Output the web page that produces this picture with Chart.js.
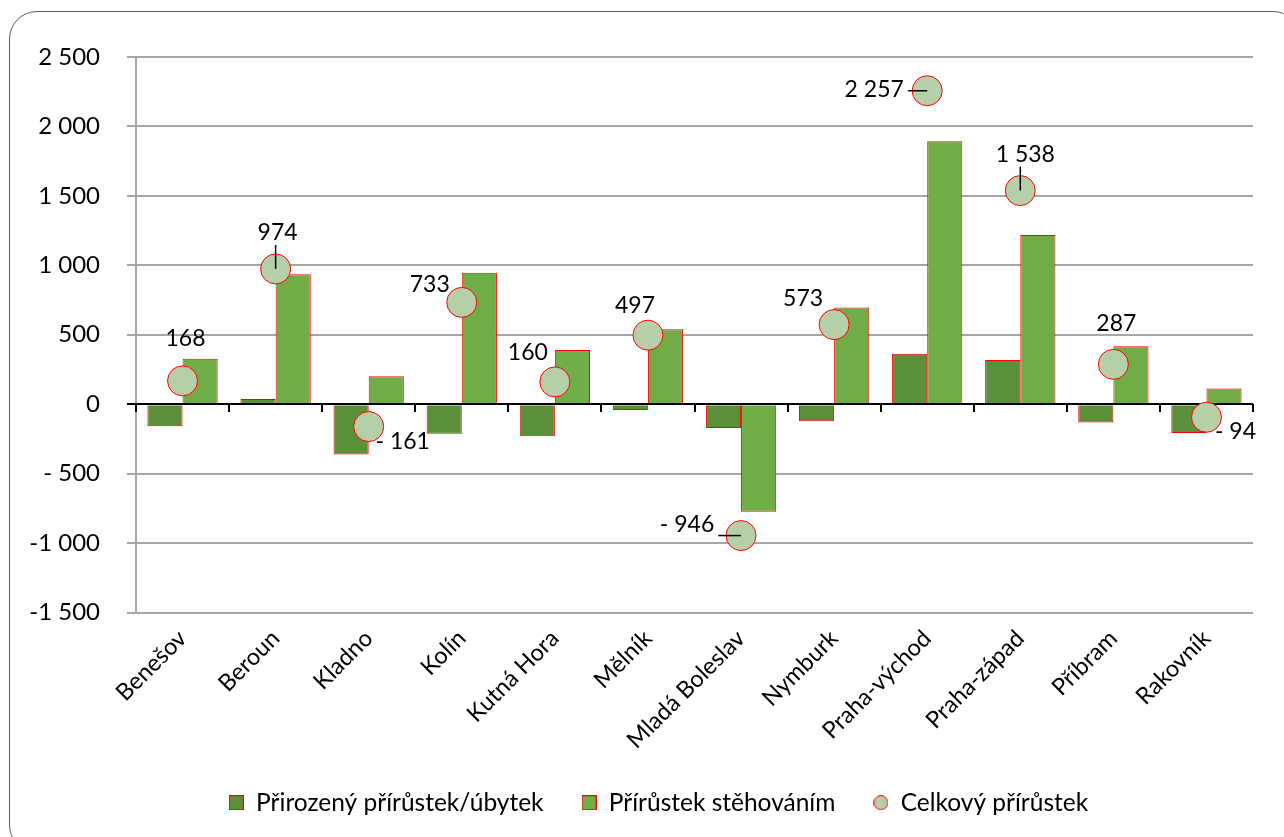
<!DOCTYPE html>
<html>
<head>
<meta charset="utf-8">
<script src="https://cdn.jsdelivr.net/npm/chart.js@4.4.1/dist/chart.umd.min.js"></script>
<style>
  body { margin: 0; background: #fff; overflow: hidden; }
  #wrap { position: relative; width: 1284px; height: 837px; }
  #frame { position: absolute; left: 9px; top: 11px; width: 1290px; height: 840px;
           border: 1px solid #5a5a5a; border-radius: 28px; }
  canvas { position: absolute; left: 0; top: 0; }
</style>
</head>
<body>
<div id="wrap">
  <div id="frame"></div>
  <canvas id="chart" width="1284" height="837"></canvas>
</div>
<script>
const categories = ['Benešov', 'Beroun', 'Kladno', 'Kolín', 'Kutná Hora', 'Mělník', 'Mladá Boleslav',
    'Nymburk', 'Praha-východ', 'Praha-západ', 'Příbram', 'Rakovník'];
const naturalGrowth = [-159, 38, -363, -213, -230, -42, -172, -123, 363, 319, -131, -207];
const migrationGrowth = [327, 936, 202, 946, 390, 539, -774, 696, 1894, 1219, 418, 113];
const totalGrowth = [168, 974, -161, 733, 160, 497, -946, 573, 2257, 1538, 287, -94];
const seriesNames = ['Přirozený přírůstek/úbytek', 'Přírůstek stěhováním', 'Celkový přírůstek'];
const yTicks = [-1500, -1000, -500, 0, 500, 1000, 1500, 2000, 2500];

// where each total label sits relative to its point (px), and which ones get a leader line
const labelOffsets = [[3, -42], [2, -36], [34, 15], [-32, -18], [-27, -29], [-13, -30],
    [-54, -11], [-31, -26], [-53, -1], [5, -36], [3, -41], [29, 14]];
const leaderLines = [false, true, false, false, false, false, true, false, true, true, false, false];

const darkGreen = '#5b8f3a';
const lightGreen = '#70ad47';
const pointFill = '#b5cfa8';
const red = '#ff0000';
const gridGray = '#a6a6a6';

Chart.defaults.font.family = 'Lato, "Open Sans", sans-serif';
Chart.defaults.color = '#000';

function fmt(v) {
    const a = Math.abs(v);
    const s = String(a).replace(/\B(?=(\d{3})+(?!\d))/g, ' ');
    if (v < 0) return (a >= 1000 ? '-' : '- ') + s;
    return s;
}

function swatch(fill, round) {
    const c = document.createElement('canvas');
    c.width = 15; c.height = 15;
    const g = c.getContext('2d');
    g.fillStyle = fill; g.strokeStyle = red; g.lineWidth = 1;
    if (round) {
        g.beginPath(); g.arc(7.5, 7.5, 7, 0, Math.PI * 2); g.fill(); g.stroke();
    } else {
        g.fillRect(0, 0, 15, 15); g.strokeRect(0.5, 0.5, 14, 14);
    }
    return c;
}
const swatches = [swatch(darkGreen, false), swatch(lightGreen, false), swatch(pointFill, true)];

// legend in the original is centred on the frame, not on the canvas
const legendShift = {
    id: 'legendShift',
    afterLayout(chart) {
        chart.legend.left += 32;
        chart.legend.right += 32;
    }
};

// black zero line with category ticks, drawn over the bars but under the points
const zeroLine = {
    id: 'zeroLine',
    beforeDatasetDraw(chart, args) {
        if (args.index !== 2) return;
        const {ctx, chartArea, scales: {x, y}} = chart;
        const y0 = Math.round(y.getPixelForValue(0));
        ctx.save();
        ctx.strokeStyle = '#000';
        ctx.lineWidth = 2;
        ctx.beginPath();
        ctx.moveTo(chartArea.left - 9, y0);
        ctx.lineTo(chartArea.right, y0);
        for (let i = 0; i <= categories.length; i++) {
            const xp = Math.round(x.getPixelForValue(i - 0.5));
            ctx.moveTo(xp, y0);
            ctx.lineTo(xp, y0 + 8);
        }
        ctx.stroke();
        ctx.restore();
    }
};

const totalLabels = {
    id: 'totalLabels',
    afterDatasetsDraw(chart) {
        const ctx = chart.ctx;
        const meta = chart.getDatasetMeta(2);
        ctx.save();
        ctx.font = '23px Lato, "Open Sans", sans-serif';
        ctx.fillStyle = '#000';
        ctx.strokeStyle = '#000';
        ctx.lineWidth = 1.5;
        ctx.textAlign = 'center';
        ctx.textBaseline = 'middle';
        meta.data.forEach((pt, i) => {
            const [dx, dy] = labelOffsets[i];
            const lx = pt.x + dx, ly = pt.y + dy;
            const txt = fmt(totalGrowth[i]);
            if (leaderLines[i]) {
                const w = ctx.measureText(txt).width / 2 + 4, h = 12;
                const sx = Math.max(lx - w, Math.min(pt.x, lx + w));
                const sy = Math.max(ly - h, Math.min(pt.y, ly + h));
                ctx.beginPath();
                ctx.moveTo(sx, sy);
                ctx.lineTo(pt.x, pt.y);
                ctx.stroke();
            }
            ctx.fillText(txt, lx, ly);
        });
        ctx.restore();
    }
};

new Chart(document.getElementById('chart'), {
    type: 'bar',
    data: {
        labels: categories,
        datasets: [
            { label: seriesNames[0], data: naturalGrowth, backgroundColor: darkGreen, borderColor: red,
              borderWidth: 1, order: 1, categoryPercentage: 0.755, barPercentage: 1 },
            { label: seriesNames[1], data: migrationGrowth, backgroundColor: lightGreen, borderColor: red,
              borderWidth: 1, order: 1, categoryPercentage: 0.755, barPercentage: 1 },
            { type: 'line', label: seriesNames[2], data: totalGrowth, showLine: false, order: 0,
              pointRadius: 15, pointHoverRadius: 15, pointBackgroundColor: pointFill,
              pointBorderColor: red, pointBorderWidth: 1 }
        ]
    },
    options: {
        responsive: false,
        animation: false,
        devicePixelRatio: 1,
        layout: { padding: { left: 0, top: 57, right: 31, bottom: 12 } },
        plugins: {
            tooltip: { enabled: false },
            legend: {
                position: 'bottom',
                labels: {
                    usePointStyle: true,
                    boxHeight: 15,
                    pointStyleWidth: 15,
                    padding: 38,
                    font: { size: 24.5 },
                    sort: (a, b) => a.datasetIndex - b.datasetIndex,
                    generateLabels(chart) {
                        const items = Chart.defaults.plugins.legend.labels.generateLabels(chart);
                        items.forEach(it => { it.pointStyle = swatches[it.datasetIndex]; });
                        return items;
                    }
                }
            }
        },
        scales: {
            x: {
                offset: true,
                grid: { display: false },
                border: { display: false },
                ticks: { minRotation: 45, maxRotation: 45, autoSkip: false, padding: 4, font: { size: 23.5 } },
                afterFit(scale) { scale.height = 140; }
            },
            y: {
                min: yTicks[0],
                max: yTicks[yTicks.length - 1],
                afterBuildTicks(scale) { scale.ticks = yTicks.map(v => ({ value: v })); },
                grid: {
                    color: ctx => ctx.tick && ctx.tick.value === 0 ? '#000' : gridGray,
                    lineWidth: 2,
                    tickLength: 9
                },
                border: { color: gridGray, width: 2 },
                ticks: { padding: 27, font: { size: 24 }, callback: v => fmt(v) },
                afterFit(scale) { scale.width = 136; }
            }
        }
    },
    plugins: [legendShift, zeroLine, totalLabels]
});
</script>
</body>
</html>
